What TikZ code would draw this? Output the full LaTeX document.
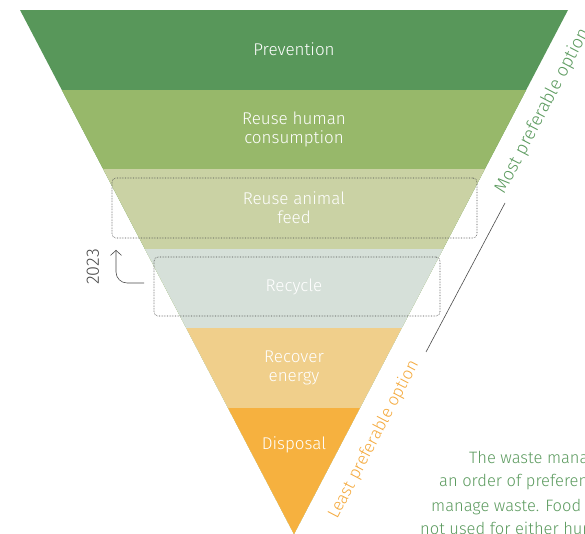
\documentclass[tikz,border=0pt]{standalone}
\usepackage{fontspec}
\setmainfont{Fira Sans}[UprightFont=* Light]
\usetikzlibrary{arrows.meta}
\definecolor{prevgreen}{HTML}{58975A}
\definecolor{humgreen}{HTML}{97B86A}
\definecolor{feedgreen}{HTML}{CAD2A4}
\definecolor{recygrey}{HTML}{D6E0D9}
\definecolor{energyyel}{HTML}{F0CF8B}
\definecolor{dispor}{HTML}{F6B13F}
\definecolor{txtgreen}{HTML}{5B9A5E}
\definecolor{txtor}{HTML}{F4A93C}
\definecolor{lineg}{HTML}{4A4A4A}
\tikzstyle{lbl}=[text=white, align=center, font=\fontsize{17}{19}\selectfont]
\tikzstyle{hl}=[draw=lineg, densely dotted, rounded corners=4pt, line width=0.6pt]
\tikzstyle{side}=[rotate=62.4, anchor=base west, inner sep=0, font=\fontsize{18}{20}\selectfont]
\tikzstyle{para}=[text=txtgreen, anchor=base west, inner sep=0, font=\fontsize{16.5}{20}\selectfont]
\tikzstyle{arr}=[draw=lineg, line width=0.6pt, -{Straight Barb[length=5pt,width=11pt]}]

\begin{document}
\begin{tikzpicture}[x=1pt,y=1pt]
\useasboundingbox (0,0) rectangle (585,534);
\begin{scope}
\clip (20,524) -- (568,524) -- (294,0) -- cycle;
\foreach \c [count=\i] in {prevgreen,humgreen,feedgreen,recygrey,energyyel,dispor}
	{\fill[\c] (0,{524-(\i-1)*79.6}) rectangle (585,0);}
\end{scope}
\foreach \t/\y [count=\i] in {Prevention/485, {Reuse human\\consumption}/405, {Reuse animal\\feed}/326, Recycle/247, {Recover\\energy}/166, Disposal/89}
	{\node[lbl] (lv\i) at (294,\y) {\t};}
\node[hl, minimum width=365, minimum height=60] (feedbox) at (294.5,326) {};
\node[hl, minimum width=286, minimum height=59] (recybox) at (297,247.5) {};
\node[rotate=90, text=lineg, font=\fontsize{18}{20}\selectfont] (yr) at (93,267) {2023};
\coordinate (yrfrom) at (144,251);
\coordinate (yrto) at (116,284);
\draw[arr, rounded corners=11pt] (yrfrom) -| (yrto);
\node[side, text=txtgreen] (most) at (504,339) {Most preferable option};
\node[side, text=txtor, font=\fontsize{17}{20}\selectfont] (least) at (337,14) {Least preferable option};
\coordinate (ma) at (505,331);
\coordinate (mb) at (426,182);
\draw[lineg, line width=0.6pt] (ma) -- (mb);
\node[para] (p1) at (469,70) {The waste mana};
\node[para] (p2) at (439,47) {an order of preferen};
\node[para] (p3) at (431,22) {manage waste. Food};
\node[para] (p4) at (420,-1) {not used for either hur};
\end{tikzpicture}
\end{document}
